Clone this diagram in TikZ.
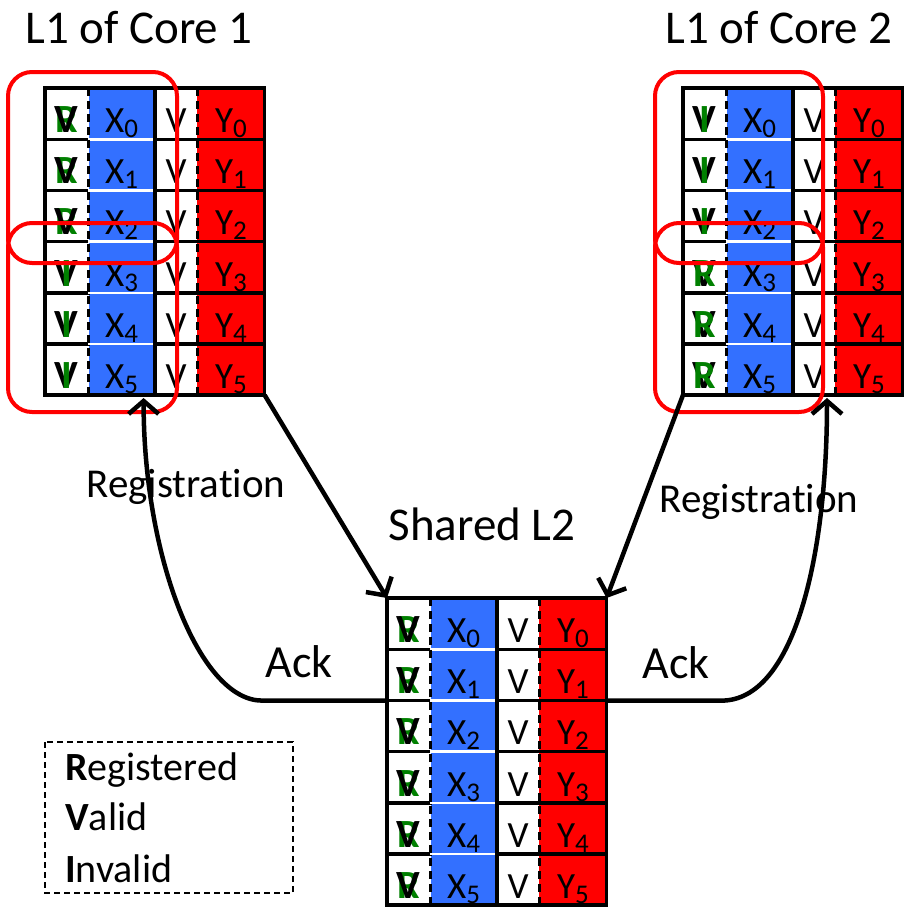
\documentclass[tikz,border=0pt]{standalone}
\usepackage{fontspec}
\setmainfont{Carlito}[Ligatures=NoCommon]
\usetikzlibrary{positioning, arrows.meta, calc}
\definecolor{xblue}{RGB}{51,112,255}
\definecolor{flaggreen}{RGB}{0,128,0}
\newcommand{\lowidx}[1]{\raisebox{-5pt}{\fontsize{27}{27}\selectfont #1}}
\newcommand{\flagRV}{\makebox[0pt]{\color{flaggreen}R}\makebox[0pt]{V}}
\newcommand{\flagVI}{\makebox[0pt]{V}\makebox[0pt]{\color{flaggreen}I}}
\newcommand{\flagVR}{\makebox[0pt]{V}\makebox[0pt]{\color{flaggreen}R}}
\tikzset{cell/.style={anchor=north west, minimum height=51.1pt, inner sep=0pt,
                      text height=38pt, text depth=0pt, font=\fontsize{37}{37}\selectfont},
         flagcell/.style={cell, minimum width=43pt, font=\fontsize{40}{40}\selectfont\bfseries},
         xcell/.style={cell, minimum width=66pt, fill=xblue},
         vcell/.style={cell, minimum width=42pt},
         ycell/.style={cell, minimum width=67pt, fill=red},
         rule/.style={line width=3.5pt, line cap=rect},
         dashrule/.style={line width=3pt, dash pattern=on 8pt off 5pt},
         whiterule/.style={draw=white, line width=2.5pt},
         sel/.style={draw=red, line width=4pt, rounded corners=24pt},
         msg/.style={line width=4.5pt, -{Straight Barb[length=13pt, width=30pt]}},
         title/.style={font=\fontsize{47}{47}\selectfont},
         lbl/.style={font=\fontsize{41}{41}\selectfont},
         ack/.style={font=\fontsize{46}{46}\selectfont},
         key/.style={font=\fontsize{40}{40}\selectfont, anchor=base west, inner sep=0pt},
        }

\begin{document}
\begin{tikzpicture}[x=1pt, y=-1pt]
        \useasboundingbox (0,0) rectangle (903,908);

        % the three caches
        \foreach \tname/\L/\T/\fa/\fb in {c1/45/88/\flagRV/\flagVI, c2/683/88/\flagVI/\flagVR, l2/387/598/\flagRV/\flagRV} {
            \foreach \r in {0,...,5} {
                \ifnum\r<3 \let\fl\fa \else \let\fl\fb \fi
                \node[flagcell] (\tname f\r) at (\L, {\T+51.1*\r}) {\fl};
                \node[xcell] (\tname x\r) at (\tname f\r.north east) {X\lowidx{\r}};
                \node[vcell] (\tname v\r) at (\tname x\r.north east) {V};
                \node[ycell] (\tname y\r) at (\tname v\r.north east) {Y\lowidx{\r}};
            }
            \foreach \r in {0,...,5} {
                \draw[rule] (\tname f\r.south west) -- (\tname f\r.south east);
                \draw[rule] (\tname v\r.south west) -- (\tname y\r.south east);
            }
            \foreach \r in {0,...,4}
                \draw[whiterule] (\tname x\r.south west) -- (\tname x\r.south east);
            \draw[rule] (\tname x5.south west) -- (\tname x5.south east);
            \draw[rule] (\tname f0.north west) -- (\tname y0.north east);
            \draw[rule] (\tname f0.north west) -- (\tname f5.south west);
            \draw[dashrule] (\tname f0.north east) -- (\tname f5.south east);
            \draw[rule] (\tname x0.north east) -- (\tname x5.south east);
            \draw[dashrule] (\tname v0.north east) -- (\tname v5.south east);
            \draw[rule] (\tname y0.north east) -- (\tname y5.south east);
        }

        \node[title] (core1) at (139,28) {L1 of Core 1};
        \node[title] (core2) at (779,28) {L1 of Core 2};
        \node[title] (shared) at (482,524) {Shared L2};

        % selected sets
        \draw[sel] (8,72) rectangle (177,263);
        \draw[sel] (8,223) rectangle (177,412);
        \draw[sel] (655,72) rectangle (823,263);
        \draw[sel] (655,223) rectangle (823,412);

        % messages
        \coordinate (reg1end) at ($(c1x5.south)+(22,3)$);
        \coordinate (reg2end) at ($(c2v5.south)+(13,3)$);
        \draw[msg] (c1y5.south east) -- (l2f0.north west);
        \draw[msg] (c2f5.south west) -- (l2y0.north east);
        \draw[msg] (l2f1.south west) -- ++(-125,0) .. controls +(-62,0) and +(0,160) .. (reg1end);
        \draw[msg] (l2y1.south east) -- ++(115,0) .. controls +(72,0) and +(0,160) .. (reg2end);

        \node[lbl] (reg1) at (186,487) {Registration};
        \node[lbl] (reg2) at (759,502) {Registration};
        \node[ack] (ack1) at (299,662) {Ack};
        \node[ack] (ack2) at (676,663) {Ack};

        % legend
        \draw[line width=2pt, dash pattern=on 6pt off 4pt] (45,742) rectangle (293,893);
        \node[key] (regd) at (65,780) {\textbf{R}egistered};
        \node[key] (vald) at (65,830) {\textbf{V}alid};
        \node[key] (invd) at (65,882) {\textbf{I}nvalid};
    \end{tikzpicture}
\end{document}
